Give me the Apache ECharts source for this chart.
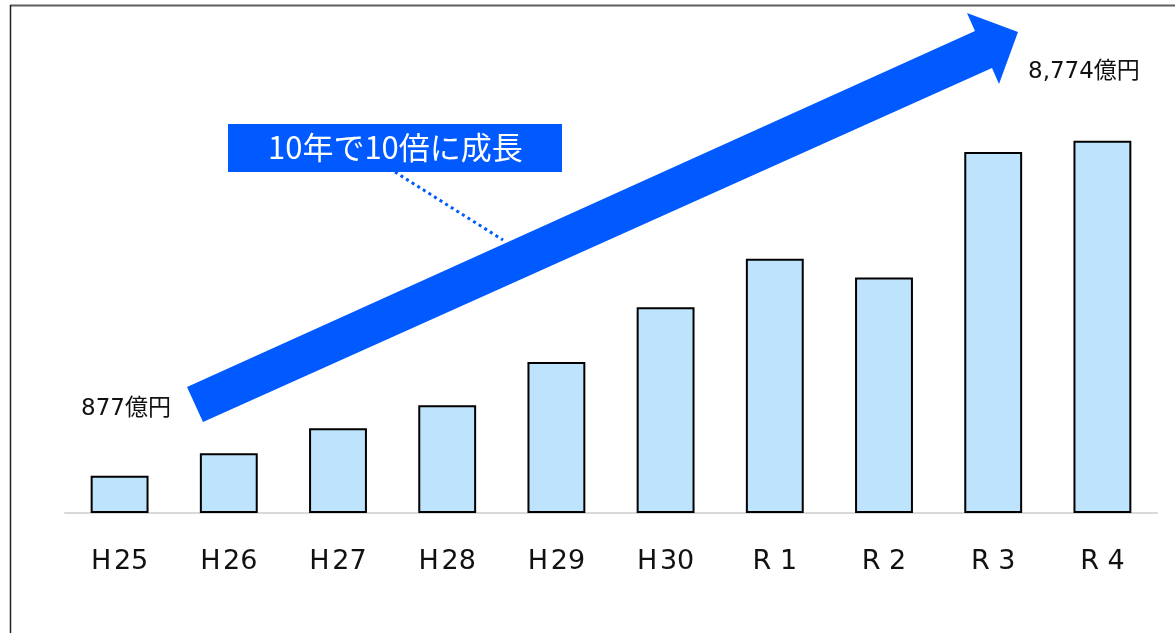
<!DOCTYPE html>
<html>
<head>
<meta charset="utf-8">
<script src="https://cdn.jsdelivr.net/npm/echarts@6/dist/echarts.min.js"></script>
<style>
html,body{margin:0;padding:0;background:#fff;}
#chart{width:1175px;height:633px;}
</style>
</head>
<body>
<div id="chart"></div>
<script>
// Data
const categories = ['H\u200A25', 'H\u200A26', 'H\u200A27', 'H\u200A28', 'H\u200A29', 'H\u200A30', 'R 1', 'R 2', 'R 3', 'R 4'];
const values = [877, 1410, 2000, 2540, 3560, 4850, 5990, 5550, 8510, 8774];
const startLabel = '877億円';
const endLabel = '8,774億円';
const calloutText = '10年で10倍に成長';

const chart = echarts.init(document.getElementById('chart'), null, {renderer: 'canvas'});
const BLUE = '#005AFF';

const option = {
  animation: false,
  backgroundColor: '#ffffff',
  grid: {left: 65, right: 18, top: 88.7, bottom: 120, containLabel: false},
  xAxis: {
    type: 'category',
    data: categories,
    axisLine: {show: true, lineStyle: {color: '#D9D9D9', width: 2}},
    axisTick: {show: false},
    axisLabel: {
      color: '#111111',
      fontSize: 27,
      fontFamily: 'DejaVu Sans, "Noto Sans CJK JP", sans-serif',
      margin: 35,
      lineHeight: 27
    }
  },
  yAxis: {
    type: 'value',
    min: 0,
    max: 10000,
    show: false,
    splitLine: {show: false}
  },
  series: [{
    type: 'bar',
    data: values,
    barWidth: '53%',
    itemStyle: {color: '#BEE3FD', borderColor: '#000000', borderWidth: 2}
  }],
  graphic: [
    // frame
    {type: 'line', shape: {x1: 10, y1: 5.5, x2: 1175, y2: 5.5}, style: {stroke: '#5f5f5f', lineWidth: 2}},
    {type: 'line', shape: {x1: 10.5, y1: 5, x2: 10.5, y2: 633}, style: {stroke: '#222222', lineWidth: 1.5}},
    // big arrow
    {type: 'polygon', z: 10, shape: {points: [[187, 387], [975, 31], [967, 13], [1018, 32], [999, 84], [992, 68], [203, 422]]},
      style: {fill: BLUE}},
    // dotted leader
    {type: 'line', z: 9, shape: {x1: 395, y1: 172, x2: 503, y2: 240},
      style: {stroke: BLUE, lineWidth: 3, lineDash: [3, 3.6]}},
    // callout box
    {type: 'rect', z: 11, shape: {x: 228, y: 124, width: 334, height: 48}, style: {fill: BLUE}},
    {type: 'text', z: 12, x: 268, y: 147,
      style: {text: calloutText, fill: '#ffffff', font: '31px "Noto Sans CJK JP", sans-serif',
        textAlign: 'left', textVerticalAlign: 'middle', align: 'left', verticalAlign: 'middle'}},
    // value labels
    {type: 'text', z: 12, x: 81, y: 409,
      style: {text: startLabel, fill: '#111111', font: '23px DejaVu Sans, "Noto Sans CJK JP", sans-serif',
        textAlign: 'left', textVerticalAlign: 'middle', align: 'left', verticalAlign: 'middle'}},
    {type: 'text', z: 12, x: 1028, y: 72,
      style: {text: endLabel, fill: '#111111', font: '23px DejaVu Sans, "Noto Sans CJK JP", sans-serif',
        textAlign: 'left', textVerticalAlign: 'middle', align: 'left', verticalAlign: 'middle'}}
  ]
};
chart.setOption(option);
</script>
</body>
</html>
